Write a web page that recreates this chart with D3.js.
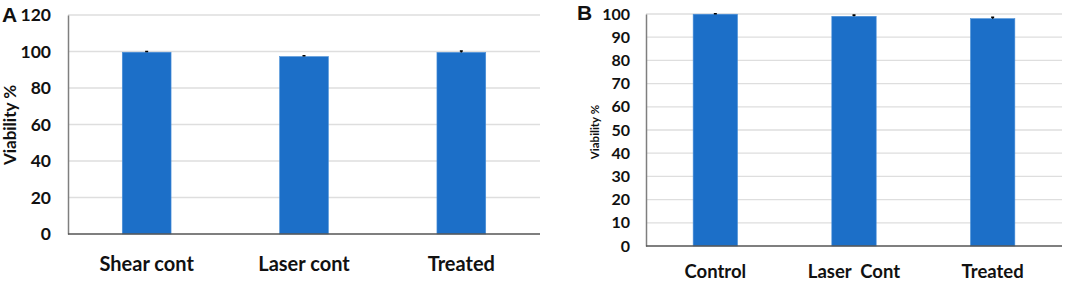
<!DOCTYPE html>
<html>
<head>
<meta charset="utf-8">
<script src="https://cdn.jsdelivr.net/npm/d3@7"></script>
<style>
  body { margin: 0; background: #fff; }
  svg text { font-family: Lato, "Open Sans", sans-serif; font-weight: bold; fill: #111; }
</style>
</head>
<body>
<svg id="chart" width="1065" height="283"></svg>
<script>
// panel A
const catsA = ["Shear cont", "Laser cont", "Treated"];
const valsA = [99.6, 97.2, 99.5];
const errsA = [0.4, 0.5, 0.8];
const ticksA = [0, 20, 40, 60, 80, 100, 120];

// panel B
const catsB = ["Control", "Laser  Cont", "Treated"];
const valsB = [99.9, 99.0, 98.0];
const errsB = [0.2, 0.5, 0.6];
const ticksB = [0, 10, 20, 30, 40, 50, 60, 70, 80, 90, 100];

const svg = d3.select("#chart");
const barColor = "#1c6fc8";

function panel(opt) {
  const g = svg.append("g");
  const x = d3.scaleBand()
    .domain(opt.cats)
    .range([opt.left, opt.right])
    .paddingInner(opt.pad)
    .paddingOuter(opt.pad / 2);
  const y = d3.scaleLinear()
    .domain([0, opt.max])
    .range([opt.bottom, opt.top]);

  // gridlines
  g.append("g")
    .selectAll("line")
    .data(opt.ticks.filter(t => t > 0))
    .enter().append("line")
    .attr("x1", opt.left).attr("x2", opt.right)
    .attr("y1", d => y(d)).attr("y2", d => y(d))
    .attr("stroke", "#dedede").attr("stroke-width", 1.3);

  // y axis
  const ya = g.append("g")
    .attr("transform", `translate(${opt.left},0)`)
    .call(d3.axisLeft(y).tickValues(opt.ticks).tickSize(0).tickPadding(opt.tickPad));
  ya.select(".domain").attr("stroke", "#7f7f7f").attr("stroke-width", 1.5);
  ya.selectAll("text")
    .style("font-size", opt.tickFont + "px")
    .style("font-family", "Lato, sans-serif")
    .style("font-weight", "bold")
    .attr("fill", "#111");

  // bars
  g.append("g")
    .selectAll("rect")
    .data(opt.vals)
    .enter().append("rect")
    .attr("x", (d, i) => x(opt.cats[i]))
    .attr("width", x.bandwidth())
    .attr("y", d => y(d))
    .attr("height", d => y(0) - y(d))
    .attr("fill", barColor)
    .attr("stroke", "#4a8fd8").attr("stroke-width", 0.6);

  // error bars
  g.append("g")
    .selectAll("path")
    .data(opt.vals)
    .enter().append("path")
    .attr("d", (d, i) => {
      const cx = x(opt.cats[i]) + x.bandwidth() / 2;
      const y1 = y(d + opt.errs[i]), y0 = y(d);
      return `M${cx},${y0}V${y1}M${cx - 1.5},${y1}H${cx + 1.5}`;
    })
    .attr("stroke", "#000").attr("stroke-width", 1.6).attr("fill", "none");

  // x axis line
  g.append("line")
    .attr("x1", opt.left).attr("x2", opt.right)
    .attr("y1", y(0)).attr("y2", y(0))
    .attr("stroke", "#555").attr("stroke-width", 1.5);

  // category labels
  g.append("g")
    .selectAll("text")
    .data(opt.cats)
    .enter().append("text")
    .attr("x", d => x(d) + x.bandwidth() / 2)
    .attr("y", opt.catY)
    .attr("text-anchor", "middle")
    .style("font-size", opt.catFont + "px")
    .style("white-space", "pre")
    .attr("xml:space", "preserve")
    .text(d => d);

  // y label
  g.append("text")
    .attr("transform", `translate(${opt.ylabX},${opt.ylabY}) rotate(-90)`)
    .attr("text-anchor", "middle")
    .style("font-size", opt.ylabFont + "px")
    .text("Viability %");

  // panel letter
  g.append("text")
    .attr("x", opt.letterX).attr("y", opt.letterY)
    .style("font-size", "21px")
    .style("font-family", "Arial, 'Liberation Sans', sans-serif")
    .text(opt.letter);
}

panel({
  cats: catsA, vals: valsA, errs: errsA, ticks: ticksA, max: 120,
  left: 68, right: 540, top: 15, bottom: 234, pad: 0.69,
  tickPad: 17, tickFont: 17.5, catFont: 20, catY: 271,
  ylabX: 16, ylabY: 125, ylabFont: 17,
  letter: "A", letterX: 2, letterY: 22
});

panel({
  cats: catsB, vals: valsB, errs: errsB, ticks: ticksB, max: 100,
  left: 646, right: 1062, top: 14, bottom: 246, pad: 0.68,
  tickPad: 16, tickFont: 16, catFont: 18.5, catY: 278,
  ylabX: 599, ylabY: 132, ylabFont: 11.5,
  letter: "B", letterX: 577, letterY: 20
});
</script>
</body>
</html>
